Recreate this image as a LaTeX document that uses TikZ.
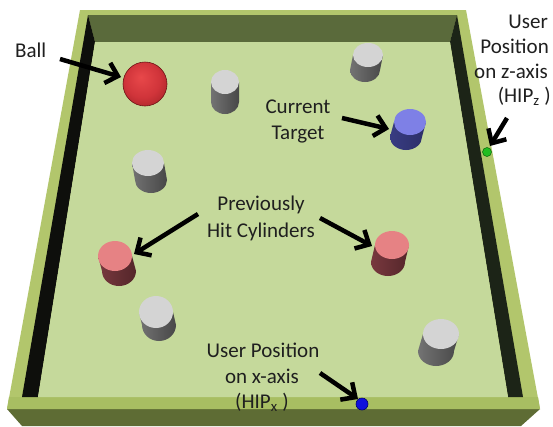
\documentclass[tikz,border=0pt]{standalone}
\usepackage{fontspec}
\setmainfont{Carlito}
\usetikzlibrary{arrows.meta}
\definecolor{rim}{HTML}{B2C66C}
\definecolor{rimfront}{HTML}{A8BE62}
\definecolor{frontface}{HTML}{5E6C34}
\definecolor{backwall}{HTML}{5A6A3B}
\definecolor{leftwall}{HTML}{0E0F0C}
\definecolor{rightwall}{HTML}{1C2417}
\definecolor{floorc}{HTML}{C5D99B}
\definecolor{greytop}{HTML}{D4D4D4}
\definecolor{pinktop}{HTML}{E68284}
\definecolor{bluetop}{HTML}{7E80E6}
\definecolor{ballhi}{HTML}{E8484A}
\definecolor{ballmid}{HTML}{D0343A}
\definecolor{balldark}{HTML}{8E1A1E}
\pgfdeclareradialshading{myball}{\pgfpoint{-5bp}{8bp}}{color(0bp)=(ballhi); color(20bp)=(ballmid); color(42bp)=(balldark); color(50bp)=(balldark)}
\newcommand\mycyl[8]{%
  \path[#8] (#1-#3,#2) -- ++(#5,#6) arc[start angle=180,end angle=0,x radius=#3,y radius=#4] -- (#1+#3,#2) -- cycle;
  \fill[#7] (#1,#2) ellipse[x radius=#3,y radius=#4];
}
\begin{document}
\begin{tikzpicture}[x=1pt,y=-1pt,
  lbl/.style={font=\fontsize{21}{26}\selectfont, inner sep=0pt, text=black!88},
  pointer/.style={line width=4.5pt, -{Straight Barb[length=11pt,width=21pt]}},
  greybody/.style={left color=black!55, middle color=black!35, right color=black!72},
  pinkbody/.style={left color={rgb,255:red,120;green,56;blue,62}, middle color={rgb,255:red,150;green,82;blue,88}, right color={rgb,255:red,84;green,38;blue,42}},
  bluebody/.style={left color={rgb,255:red,56;green,60;blue,130}, middle color={rgb,255:red,84;green,88;blue,175}, right color={rgb,255:red,44;green,47;blue,104}}]
\useasboundingbox (0,0) rectangle (553,426);
\fill[white] (0,0) rectangle (553,426);
% board
\fill[rim] (80,10) -- (466,10) -- (540,409) -- (7,409) -- cycle;
\fill[frontface] (7,409) -- (540,409) -- (521,426) -- (22,426) -- cycle;
\fill[rimfront] (9,397) -- (538,397) -- (540,409) -- (7,409) -- cycle;
\fill[backwall] (88,15) -- (457,15) -- (450,42) -- (95,42) -- cycle;
\fill[leftwall] (88,15) -- (95,42) -- (38,397) -- (22,397) -- cycle;
\fill[rightwall] (457,15) -- (523,397) -- (508,397) -- (450,42) -- cycle;
\fill[floorc] (95,42) -- (450,42) -- (508,397) -- (38,397) -- cycle;
% cylinders
\mycyl{225}{82}{14}{12}{0}{20}{greytop}{greybody}
\mycyl{368}{55}{15}{12}{-3}{15}{greytop}{greybody}
\mycyl{410}{122}{16}{13}{-4}{15}{bluetop}{bluebody}
\mycyl{148}{163}{16}{13}{3}{17}{greytop}{greybody}
\mycyl{115}{256}{17}{15}{4}{15}{pinktop}{pinkbody}
\mycyl{392}{245}{17}{14}{-4}{17}{pinktop}{pinkbody}
\mycyl{156}{312}{17}{16}{3}{13}{greytop}{greybody}
\mycyl{441}{334}{18}{15}{-5}{17}{greytop}{greybody}
% ball
\node[circle, minimum size=44pt, inner sep=0pt, shading=myball, draw={rgb,255:red,110;green,20;blue,22}, line width=0.6pt] (ball) at (145,84) {};
% user position dots
\node[circle, minimum size=9pt, inner sep=0pt, fill={rgb,255:red,34;green,190;blue,34}, draw={rgb,255:red,10;green,100;blue,10}, line width=0.5pt] (hipz) at (487,152) {};
\node[circle, minimum size=12pt, inner sep=0pt, fill={rgb,255:red,16;green,16;blue,220}, draw={rgb,255:red,0;green,0;blue,110}, line width=0.6pt] (hipx) at (362,404) {};
% labels
\node[lbl, anchor=base west] (tball) at (15,57) {Ball};
\node[lbl, anchor=base] (tcur1) at (298,113) {Current};
\node[lbl, anchor=base] (tcur2) at (298,139) {Target};
\node[lbl, anchor=base] (tprev1) at (261,210) {Previously};
\node[lbl, anchor=base] (tprev2) at (261,237) {Hit Cylinders};
\node[lbl, anchor=base] (tx1) at (263,357) {User Position};
\node[lbl, anchor=base] (tx2) at (262,383) {on x-axis};
\node[lbl, anchor=base] (tx3) at (262,408) {(HIP\textsubscript{x} )};
\node[lbl, anchor=base east] (tz1) at (548,28) {User};
\node[lbl, anchor=base east] (tz2) at (549,53) {Position};
\node[lbl, anchor=base east] (tz3) at (548,78) {on z-axis};
\node[lbl, anchor=base east] (tz4) at (551,102) {(HIP\textsubscript{z} )};
% arrow ends
\coordinate (aBallS) at (60,59);   \coordinate (aBallE) at (121,77);
\coordinate (aCurS) at (342,118);  \coordinate (aCurE) at (389,129);
\coordinate (aZS) at (507,118);    \coordinate (aZE) at (490,146);
\coordinate (aPLS) at (198,214);   \coordinate (aPLE) at (134,254);
\coordinate (aPRS) at (320,218);   \coordinate (aPRE) at (372,246);
\coordinate (aXS) at (320,373);    \coordinate (aXE) at (358,399);
\draw[pointer] (aBallS) -- (aBallE);
\draw[pointer] (aCurS) -- (aCurE);
\draw[pointer] (aZS) -- (aZE);
\draw[pointer] (aPLS) -- (aPLE);
\draw[pointer] (aPRS) -- (aPRE);
\draw[pointer] (aXS) -- (aXE);
\end{tikzpicture}
\end{document}
